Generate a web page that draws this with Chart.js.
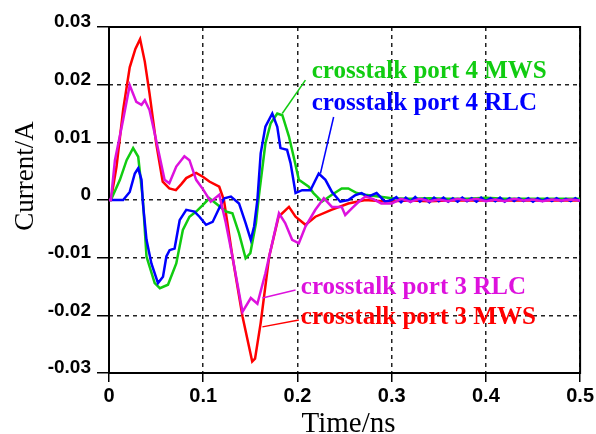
<!DOCTYPE html>
<html><head><meta charset="utf-8">
<script src="https://cdn.jsdelivr.net/npm/chart.js@4/dist/chart.umd.min.js"></script>
<style>html,body{margin:0;padding:0;background:#fff}</style>
</head><body>
<canvas id="c" width="596" height="434"></canvas>
<script>
// ---- data (time in ns, current in A) ----
const tPort3MWS = [0,0.002,0.008,0.015,0.022,0.028,0.033,0.038,0.043,0.050,0.057,0.064,0.071,0.077,0.082,0.0925,0.100,0.1065,0.117,0.122,0.131,0.1417,0.152,0.155,0.161,0.170,0.180,0.191,0.198,0.2085,0.219,0.236,0.254,0.272,0.29,0.30,0.32,0.34,0.36,0.38,0.40,0.42,0.44,0.46,0.48,0.50];
const iPort3MWS = [0,0,0.0058,0.0156,0.0230,0.0262,0.0279,0.0240,0.0185,0.0099,0.0032,0.0020,0.0017,0.0028,0.0038,0.0047,0.0040,0.0032,0.0023,0.0000,-0.0098,-0.0202,-0.0280,-0.0275,-0.0213,-0.0098,-0.0029,-0.0012,-0.0029,-0.0043,-0.0029,-0.0017,-0.0006,0.0000,-0.0002,-0.0002,-0.0001,-0.0002,-0.0001,-0.0001,-0.0001,-0.0001,-0.0001,-0.0001,-0.0001,-0.0001];

const tPort3RLC = [0,0.002,0.0063,0.015,0.022,0.029,0.0345,0.038,0.043,0.050,0.059,0.064,0.0714,0.080,0.0854,0.0925,0.100,0.108,0.117,0.124,0.131,0.1417,0.1505,0.1575,0.166,0.1804,0.187,0.1944,0.2015,0.2085,0.219,0.228,0.2366,0.247,0.2507,0.258,0.265,0.272,0.28,0.289,0.30,0.31,0.32,0.33,0.34,0.35,0.36,0.37,0.38,0.39,0.40,0.41,0.42,0.43,0.44,0.45,0.46,0.47,0.48,0.49,0.50];
const iPort3RLC = [0,0,0.0069,0.0139,0.0199,0.0170,0.0165,0.0173,0.0156,0.0104,0.0035,0.0029,0.0058,0.0076,0.0069,0.0035,0.0018,-0.0003,0.0009,-0.0040,-0.0098,-0.0194,-0.0170,-0.0180,-0.0127,-0.0023,-0.0040,-0.0069,-0.0075,-0.0046,-0.0017,0.0003,-0.0012,-0.0012,-0.0026,-0.0014,-0.0003,0.0006,0.0002,-0.0006,-0.0006,0.0002,-0.0003,0.0002,-0.0002,0.0001,-0.0002,0.0002,-0.0001,0.0002,-0.0002,0.0001,-0.0002,0.0002,-0.0001,0.0001,-0.0002,0.0001,-0.0001,0.0001,-0.0001];

const tPort4MWS = [0,0.002,0.0116,0.0187,0.0256,0.031,0.036,0.0398,0.0485,0.054,0.0626,0.0714,0.0784,0.0854,0.0925,0.0995,0.1065,0.1136,0.124,0.131,0.138,0.145,0.150,0.156,0.159,0.166,0.1716,0.1786,0.184,0.191,0.196,0.2015,0.212,0.217,0.226,0.2366,0.247,0.254,0.263,0.272,0.286,0.30,0.32,0.34,0.36,0.38,0.40,0.42,0.44,0.46,0.48,0.50];
const iPort4MWS = [0,0,0.0035,0.0069,0.0090,0.0075,0.0000,-0.0098,-0.0144,-0.0153,-0.0147,-0.0110,-0.0052,-0.0029,-0.0020,-0.0009,0.0003,-0.0006,-0.0020,-0.0023,-0.0058,-0.0101,-0.0092,-0.0040,0.0006,0.0098,0.0133,0.0150,0.0147,0.0110,0.0075,0.0035,0.0023,0.0012,-0.0003,0.0009,0.0020,0.0020,0.0012,0.0009,0.0006,0.0003,0.0002,0.0003,0.0002,0.0002,0.0004,0.0002,0.0002,0.0002,0.0002,0.0002];

const tPort4RLC = [0,0.015,0.022,0.0274,0.031,0.0345,0.036,0.0398,0.045,0.052,0.0573,0.0609,0.0643,0.0696,0.075,0.082,0.0907,0.096,0.103,0.110,0.117,0.1224,0.1294,0.138,0.145,0.1505,0.154,0.1575,0.161,0.166,0.1733,0.1786,0.182,0.189,0.1927,0.198,0.205,0.2138,0.2226,0.2297,0.2366,0.2455,0.254,0.261,0.268,0.275,0.284,0.293,0.30,0.305,0.31,0.315,0.32,0.325,0.33,0.335,0.34,0.345,0.35,0.355,0.36,0.365,0.37,0.375,0.38,0.385,0.39,0.395,0.40,0.405,0.41,0.415,0.42,0.425,0.43,0.435,0.44,0.445,0.45,0.455,0.46,0.465,0.47,0.475,0.48,0.485,0.49,0.495,0.50];
const iPort4RLC = [0,0,0.0014,0.0046,0.0055,0.0035,-0.0006,-0.0069,-0.0110,-0.0144,-0.0133,-0.0098,-0.0087,-0.0084,-0.0035,-0.0017,-0.0020,-0.0029,-0.0043,-0.0038,-0.0014,0.0003,0.0006,-0.0006,-0.0040,-0.0069,-0.0046,0.0000,0.0081,0.0127,0.0150,0.0127,0.0090,0.0087,0.0064,0.0012,0.0017,0.0017,0.0046,0.0035,0.0014,-0.0003,0.0000,0.0008,0.0012,0.0006,0.0012,-0.0003,0.0000,0.0005,-0.0004,0.0004,-0.0003,0.0005,-0.0003,0.0003,-0.0004,0.0004,-0.0002,0.0004,-0.0003,0.0003,-0.0003,0.0004,-0.0002,0.0003,-0.0003,0.0004,-0.0002,0.0003,-0.0002,0.0004,-0.0003,0.0003,-0.0002,0.0003,-0.0002,0.0003,-0.0003,0.0003,-0.0002,0.0003,-0.0002,0.0003,-0.0002,0.0002,-0.0002,0.0003,-0.0002];

const seriesNames = ['crosstalk port 3 RLC','crosstalk port 4 RLC','crosstalk port 4 MWS','crosstalk port 3 MWS'];
const xTickValues = [0,0.1,0.2,0.3,0.4,0.5];
const yTickValues = [-0.03,-0.02,-0.01,0,0.01,0.02,0.03];
const xTitle = 'Time/ns';
const yTitle = 'Current/A';

// ---- styling / annotation anchors (data units) ----
const COLORS = {p3RLC:'#dd11dd', p4RLC:'#0000ff', p4MWS:'#11cc11', p3MWS:'#ff0000'};
const labelSpecs = [
  {text:seriesNames[2], color:COLORS.p4MWS, tx:0.2152, ty:0.0222, from:[0.2085,0.0208], to:[0.1839,0.0150]},
  {text:seriesNames[1], color:COLORS.p4RLC, tx:0.2152, ty:0.0168, from:[0.2384,0.0144], to:[0.2244,0.0046]},
  {text:seriesNames[0], color:COLORS.p3RLC, tx:0.2036, ty:-0.01525, from:[0.1980,-0.0156], to:[0.1628,-0.0170]},
  {text:seriesNames[3], color:COLORS.p3MWS, tx:0.2036, ty:-0.02045, from:[0.2015,-0.0208], to:[0.1628,-0.0220]}
];

function pts(ts, vs){ return ts.map((t,i)=>({x:t, y:vs[i]})); }
function ds(label, ts, vs, color){
  return {label, data:pts(ts,vs), borderColor:color, backgroundColor:color, borderWidth:2.5,
          pointRadius:0, tension:0, fill:false};
}

const framePlugin = {
  id:'frame',
  beforeDatasetsDraw(chart){
    const {ctx, chartArea:a} = chart;
    ctx.save();
    ctx.strokeStyle = '#000';
    ctx.lineWidth = 2;
    ctx.strokeRect(a.left, a.top, a.right - a.left, a.bottom - a.top);
    ctx.restore();
  },
  afterDraw(chart){
    const {ctx, chartArea:a, scales:{x, y}} = chart;
    ctx.save();
    // annotations
    ctx.font = 'bold 25px "Liberation Serif", "Times New Roman", serif';
    ctx.textBaseline = 'middle';
    ctx.textAlign = 'left';
    labelSpecs.forEach(s => {
      ctx.strokeStyle = s.color;
      ctx.lineWidth = 1.5;
      ctx.beginPath();
      ctx.moveTo(x.getPixelForValue(s.from[0]), y.getPixelForValue(s.from[1]));
      ctx.lineTo(x.getPixelForValue(s.to[0]), y.getPixelForValue(s.to[1]));
      ctx.stroke();
      ctx.fillStyle = s.color;
      ctx.fillText(s.text, x.getPixelForValue(s.tx), y.getPixelForValue(s.ty));
    });
    // axis titles
    ctx.fillStyle = '#000';
    ctx.textBaseline = 'alphabetic';
    ctx.textAlign = 'center';
    ctx.font = '29px "Liberation Serif", "Times New Roman", serif';
    ctx.fillText(xTitle, (a.left + a.right)/2 + 4, a.bottom + 59);
    ctx.translate(a.left - 76, a.top + 149);
    ctx.rotate(-Math.PI/2);
    ctx.font = '27px "Liberation Serif", "Times New Roman", serif';
    ctx.fillText(yTitle, 0, 0);
    ctx.restore();
  }
};

new Chart(document.getElementById('c'), {
  type:'line',
  data:{datasets:[
    ds(seriesNames[0], tPort3RLC, iPort3RLC, COLORS.p3RLC),
    ds(seriesNames[1], tPort4RLC, iPort4RLC, COLORS.p4RLC),
    ds(seriesNames[2], tPort4MWS, iPort4MWS, COLORS.p4MWS),
    ds(seriesNames[3], tPort3MWS, iPort3MWS, COLORS.p3MWS)
  ]},
  options:{
    responsive:false, animation:false, devicePixelRatio:1,
    layout:{padding:{left:0, right:13, top:27, bottom:0}},
    plugins:{legend:{display:false}, tooltip:{enabled:false}},
    scales:{
      x:{type:'linear', min:0, max:0.5,
         afterBuildTicks: s => { s.ticks = xTickValues.map(v=>({value:v})); },
         afterFit: s => { s.height = 61; },
         ticks:{callback:v => v===0 ? '0' : v.toFixed(1), color:'#000', padding:2, maxRotation:0, autoSkip:false,
                font:{family:'"Liberation Sans", Arial, sans-serif', size:20, weight:'bold'}},
         grid:{color:'#222', lineWidth:1.5, tickLength:9, tickColor:'#000', tickWidth:1.5},
         border:{display:false, dash:[4,4]}},
      y:{type:'linear', min:-0.03, max:0.03,
         afterBuildTicks: s => { s.ticks = yTickValues.map(v=>({value:v})); },
         afterFit: s => { s.width = 109; },
         ticks:{callback:v => v===0 ? '0' : v.toFixed(2), color:'#000', padding:6, labelOffset:-5, autoSkip:false,
                font:{family:'"Liberation Sans", Arial, sans-serif', size:19, weight:'bold'}},
         grid:{color:'#222', lineWidth:1.5, tickLength:12, tickColor:'#000', tickWidth:1.5},
         border:{display:false, dash:[4,4]}}
    }
  },
  plugins:[framePlugin]
});
</script>
</body></html>
